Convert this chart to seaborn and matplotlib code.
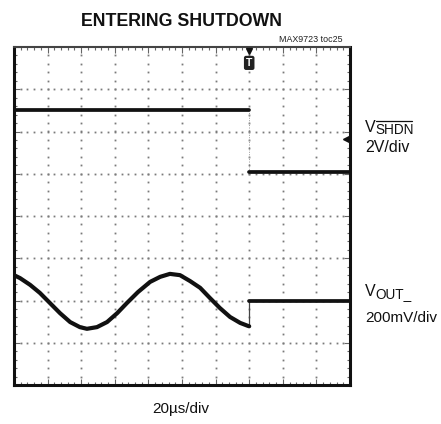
import numpy as np
import pandas as pd
import matplotlib
matplotlib.use("Agg")
import matplotlib.pyplot as plt
import matplotlib.transforms as mtransforms
from matplotlib import font_manager
import seaborn as sns

# ---- data (time in µs, 20 µs/div; amplitude in screen divisions) ----
vout_t = [0, 3.6, 9.6, 15.4, 21.4, 27.4, 33.4, 39.2, 43.4, 49.4, 55.4, 61.4,
          67.2, 73.8, 81.0, 87.0, 92.8, 98.8, 104.8, 110.8, 116.6, 122.6,
          128.6, 134.6, 139.2, 140.0]
vout_v = [2.60, 2.53, 2.37, 2.18, 1.94, 1.70, 1.49, 1.37, 1.33, 1.37, 1.49,
          1.70, 1.94, 2.20, 2.44, 2.56, 2.63, 2.60, 2.46, 2.30, 2.06, 1.82,
          1.61, 1.47, 1.40, 1.39]
vout_after_t = [140.0, 200.0]
vout_after_v = [2.00, 2.00]
shdn_before_t = [0.0, 140.0]
shdn_before_v = [6.52, 6.52]
shdn_after_t = [140.0, 200.0]
shdn_after_v = [5.05, 5.05]
step_time = 140.0
shdn_ground = 5.82

sns.set_theme(style="white")
plt.rcParams['font.family'] = ['Liberation Sans', 'DejaVu Sans']

def has_font(name):
    try:
        font_manager.findfont(name, fallback_to_default=False)
        return True
    except Exception:
        return False

title_family = 'Liberation Sans Narrow' if has_font('Liberation Sans Narrow') else 'Liberation Sans'

W, H = 441, 424
fig = plt.figure(figsize=(W / 100, H / 100), dpi=100)
L, R, T, B = 14, 350, 47, 385
ax = fig.add_axes([L / W, 1 - B / H, (R - L) / W, (B - T) / H])
ax.set_xlim(0, 200)
ax.set_ylim(0, 8)

def fx(x):
    return x / W

def fy(y):
    return 1 - y / H

# graticule dots
gx, gy = [], []
for xv in range(20, 200, 20):
    for yv in np.arange(0.2, 8.0, 0.2):
        gx.append(xv); gy.append(yv)
for yv in range(1, 8):
    for xv in np.arange(4, 200, 4):
        gx.append(xv); gy.append(yv)
ax.plot(gx, gy, linestyle='none', marker='s', markersize=1.3, mew=0,
        color='#7a7a7a', zorder=1)

# traces
df_vout = pd.DataFrame({'t': vout_t, 'v': vout_v})
sns.lineplot(data=df_vout, x='t', y='v', ax=ax, color='#111111', lw=3.0,
             sort=False, estimator=None, zorder=3)
sns.lineplot(x=vout_after_t, y=vout_after_v, ax=ax, color='#111111', lw=2.7,
             estimator=None, zorder=3)
sns.lineplot(x=shdn_before_t, y=shdn_before_v, ax=ax, color='#111111', lw=2.7,
             estimator=None, zorder=3)
sns.lineplot(x=shdn_after_t, y=shdn_after_v, ax=ax, color='#111111', lw=2.7,
             estimator=None, zorder=3)
# transition edges
ax.plot([step_time, step_time], [vout_v[-1], vout_after_v[0]], color='#444444',
        lw=0.9, zorder=2)
ax.plot([step_time, step_time], [shdn_before_v[-1], shdn_after_v[0]],
        color='#999999', lw=0.7, linestyle=(0, (1, 1.5)), zorder=2)

# ticks / border
ax.set_xticks(np.arange(0, 201, 20))
ax.set_xticks(np.arange(0, 201, 4), minor=True)
ax.set_yticks(np.arange(0, 8.01, 1))
ax.set_yticks(np.arange(0, 8.01, 0.2), minor=True)
ax.tick_params(which='both', direction='in', top=True, right=True, bottom=True,
               left=True, labelbottom=False, labelleft=False, color='#666666',
               width=0.8)
ax.tick_params(which='major', length=4)
ax.tick_params(which='minor', length=2.5)
ax.set_xlabel(''); ax.set_ylabel('')
ax.grid(False)
for s in ['left', 'right', 'bottom']:
    ax.spines[s].set_linewidth(2.2)
    ax.spines[s].set_color('#111111')
ax.spines['top'].set_linewidth(1.5)
ax.spines['top'].set_color('#444444')

# trigger marker
trans = mtransforms.blended_transform_factory(ax.transData, ax.transAxes)
ax.plot([step_time], [0.988], marker='v', markersize=4.5, color='#111111',
        transform=trans, clip_on=False, zorder=5)
ax.text(step_time, 0.953, 'T', transform=trans, ha='center', va='center',
        color='white', fontsize=7.5, fontweight='bold', zorder=6,
        bbox=dict(boxstyle='round,pad=0.2', fc='#222222', ec='none'))
# ground marker for SHDN channel
ax.plot([197.6], [shdn_ground], marker='<', markersize=5, color='#111111',
        clip_on=False, zorder=5)

# texts
fig.text(fx(181.5), fy(21.5), 'ENTERING SHUTDOWN', ha='center', va='center',
         fontsize=15 if title_family.endswith('Narrow') else 12.8,
         fontweight='bold', family=title_family, color='#111111')
fig.text(fx(343), fy(39.5), 'MAX9723 toc25', ha='right', va='center',
         fontsize=6.4, color='#222222')

fig.text(fx(365), fy(128), 'V', ha='left', va='center', fontsize=11.5,
         color='#111111')
fig.text(fx(375), fy(130), 'SHDN', ha='left', va='center', fontsize=9.8,
         color='#111111')
fig.add_artist(plt.Line2D([fx(376), fx(412)], [fy(121), fy(121)], lw=0.9,
                          color='#111111', transform=fig.transFigure))
fig.text(fx(365), fy(147.5), '2V/div', ha='left', va='center', fontsize=11.5,
         color='#111111')

fig.text(fx(365), fy(291), 'V', ha='left', va='center', fontsize=11.5,
         color='#111111')
fig.text(fx(375), fy(294), 'OUT_', ha='left', va='center', fontsize=9.8,
         color='#111111')
fig.text(fx(365), fy(317.5), '200mV/div', ha='left', va='center', fontsize=11,
         color='#111111')

fig.text(fx(181), fy(408.5), '20µs/div', ha='center', va='center', fontsize=11,
         color='#111111')

fig.savefig('out.png', dpi=100)
